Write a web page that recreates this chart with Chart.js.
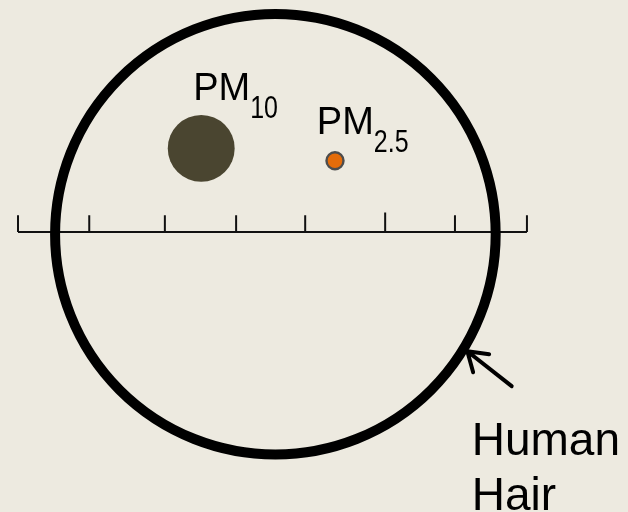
<!DOCTYPE html>
<html>
<head>
<meta charset="utf-8">
<script src="https://cdn.jsdelivr.net/npm/chart.js@4.4.1/dist/chart.umd.min.js"></script>
<style>
  html, body { margin: 0; padding: 0; background: #edeae0; }
  #grafico { display: block; }
</style>
</head>
<body>
<canvas id="grafico" width="628" height="512"></canvas>
<script>
// everything in micrometres, the ruler starts at 0
var rulerTicks = [0, 9.8, 20.2, 30.0, 39.5, 50.5, 60.1, 70.0];
var tickHeights = [2.3, 2.3, 2.3, 2.3, 2.3, 2.7, 2.3, 2.3];

var particleNames = ["Human Hair", "PM10", "PM2.5"];
var particleX = [35.4, 25.2, 43.6];
var particleY = [-0.3, 11.5, 9.8];
var particleRadius = [30.3, 4.6, 1.17];

// arrow pointing at the hair (tail, tip, wing, gap, tip, wing)
var arrowX = [67.9, 61.8, 64.8, null, 61.8, 62.6];
var arrowY = [-21.2, -16.4, -16.8, null, -16.4, -19.3];

var labelMain = ["PM", "PM", "Human", "Hair"];
var labelSub = ["10", "2.5", "", ""];

// where the labels go (layout, not data)
var labelPos = [
  { x: 24.1, y: 18.2, size: 38 },
  { x: 41.1, y: 13.5, size: 38 },
  { x: 62.4, y: -30.7, size: 46 },
  { x: 62.4, y: -38.3, size: 46 }
];

function escala(c) {
  var s = c.chart.scales.x;
  return Math.abs(s.getPixelForValue(particleRadius[c.dataIndex]) - s.getPixelForValue(0));
}

var particulas = particleX.map(function (x, i) {
  return { x: x, y: particleY[i] };
});

var regua = [{ x: rulerTicks[0], y: 0 }, { x: rulerTicks[rulerTicks.length - 1], y: 0 }];

var tracos = [];
rulerTicks.forEach(function (t, i) {
  tracos.push({ x: t, y: 0 });
  tracos.push({ x: t, y: tickHeights[i] });
  tracos.push({ x: null, y: null });
});

var seta = arrowX.map(function (x, i) {
  return { x: x, y: arrowY[i] };
});

var textos = {
  id: "textos",
  afterDatasetsDraw: function (chart) {
    var ctx = chart.ctx;
    var sx = chart.scales.x;
    var sy = chart.scales.y;
    ctx.save();
    ctx.fillStyle = "#000";
    ctx.textBaseline = "alphabetic";
    ctx.textAlign = "left";
    labelMain.forEach(function (txt, i) {
      var p = labelPos[i];
      var px = sx.getPixelForValue(p.x);
      var py = sy.getPixelForValue(p.y);
      ctx.font = p.size + 'px "Liberation Sans", Arial, sans-serif';
      ctx.fillText(txt, px, py);
      if (labelSub[i]) {
        // subscript is narrower and taller in the original
        var w = ctx.measureText(txt).width;
        ctx.save();
        ctx.translate(px + w, py + 18);
        ctx.scale(0.78, 1);
        ctx.font = '32px "Liberation Sans", Arial, sans-serif';
        ctx.fillText(labelSub[i], 0, 0);
        ctx.restore();
      }
    });
    ctx.restore();
  }
};

var graf = document.getElementById("grafico").getContext("2d");
var grafico = new Chart(graf, {
  type: "scatter",
  data: {
    datasets: [
      {
        label: "Particles",
        data: particulas,
        showLine: false,
        pointRadius: escala,
        pointBackgroundColor: ["rgba(0,0,0,0)", "#4a4530", "#e46c0a"],
        pointBorderColor: ["#000000", "#4a4530", "#4d4d4d"],
        pointBorderWidth: [10, 0, 2.4],
        clip: false
      },
      {
        label: "Arrow",
        type: "line",
        data: seta,
        borderColor: "#000000",
        borderWidth: 4,
        borderCapStyle: "round",
        borderJoinStyle: "round",
        pointRadius: 0,
        spanGaps: false,
        fill: false,
        clip: false
      },
      {
        label: "Ruler",
        type: "line",
        data: regua,
        borderColor: "#111111",
        borderWidth: 2,
        pointRadius: 0,
        fill: false,
        clip: false
      },
      {
        label: "Ticks",
        type: "line",
        data: tracos,
        borderColor: "#111111",
        borderWidth: 2,
        pointRadius: 0,
        spanGaps: false,
        fill: false,
        clip: false
      }
    ]
  },
  options: {
    responsive: false,
    animation: false,
    events: [],
    layout: { padding: 0 },
    plugins: {
      legend: { display: false },
      tooltip: { enabled: false },
      title: { display: false }
    },
    scales: {
      x: { type: "linear", display: false, min: -2.476, max: 83.9 },
      y: { type: "linear", display: false, min: -38.51, max: 31.91 }
    }
  },
  plugins: [textos]
});
</script>
</body>
</html>
